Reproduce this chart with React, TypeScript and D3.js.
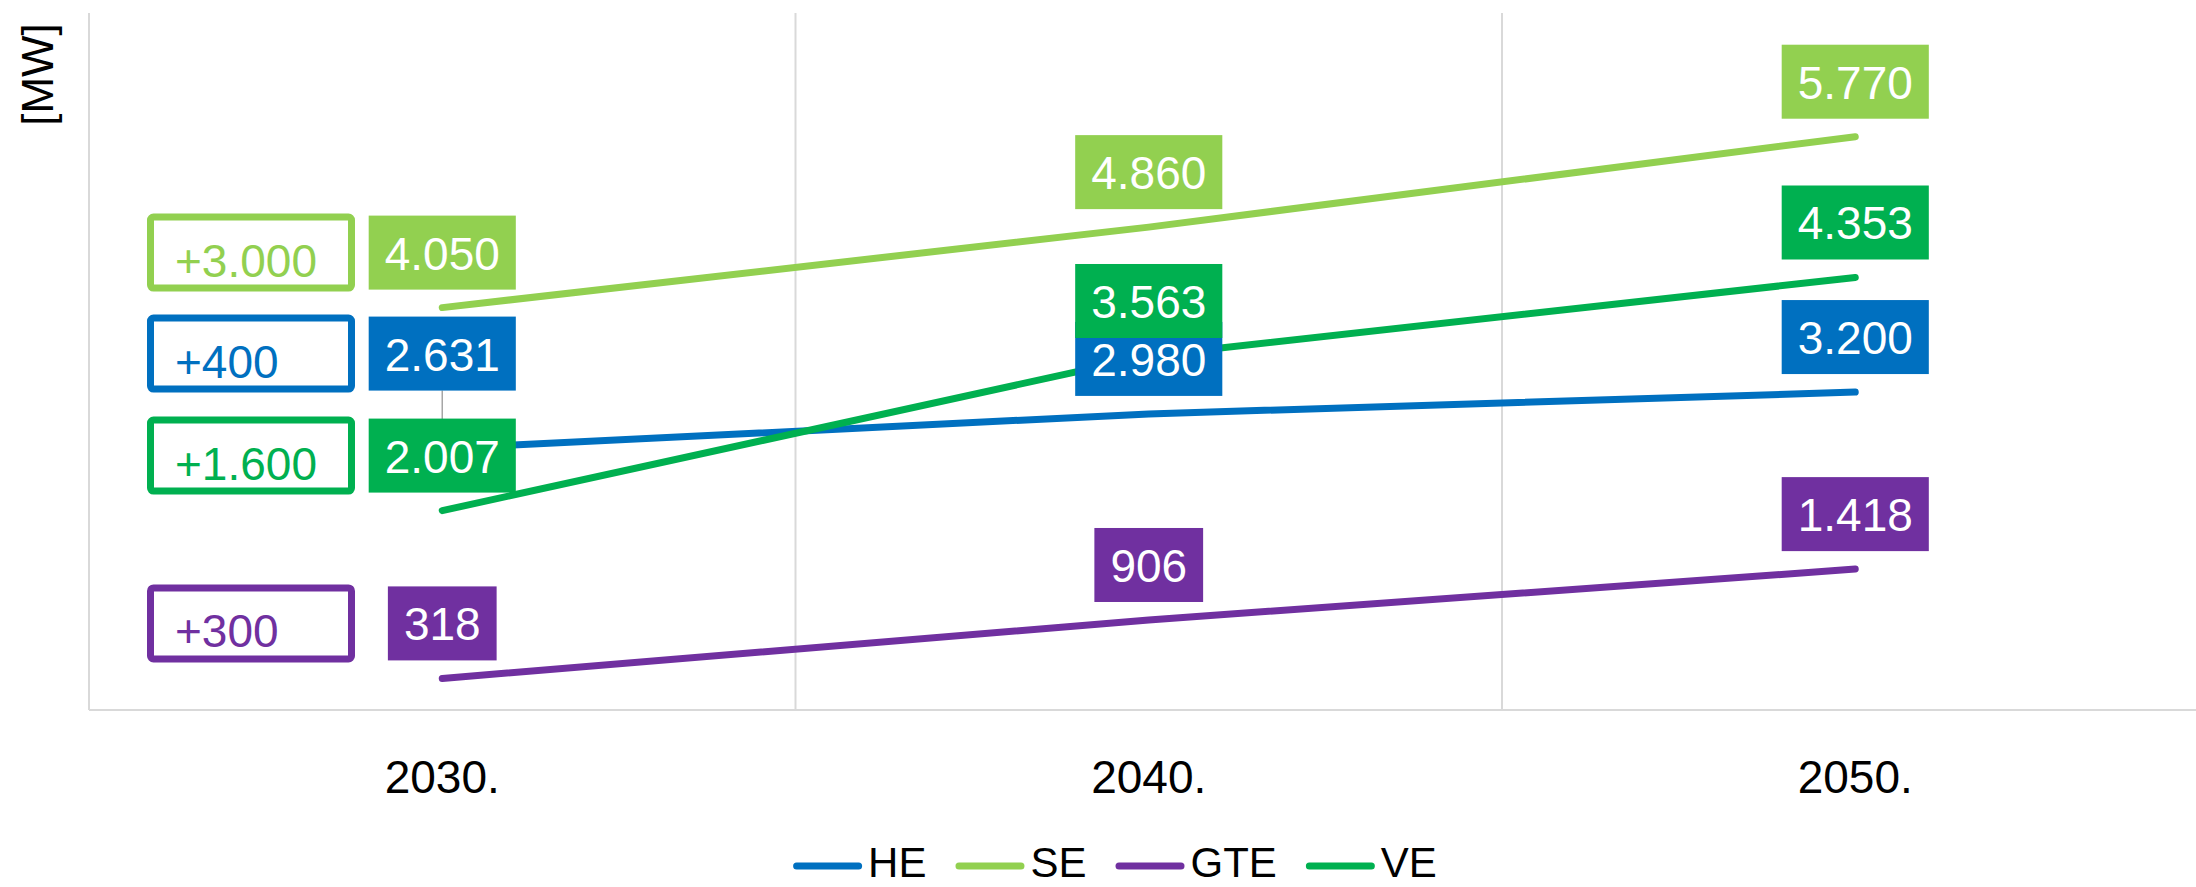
import React, { useRef, useEffect } from "react";
import * as d3 from "d3";

const WIDTH = 2196;
const HEIGHT = 887;

// data
const categories = ["2030.", "2040.", "2050."];
const seriesNames = ["HE", "SE", "GTE", "VE"];
const seriesColors = ["#0070C0", "#92D050", "#7030A0", "#00B050"];
const heValues = [2631, 2980, 3200];
const seValues = [4050, 4860, 5770];
const gteValues = [318, 906, 1418];
const veValues = [2007, 3563, 4353];
const increaseLabels = ["+400", "+3.000", "+300", "+1.600"];

const seriesValues = [heValues, seValues, gteValues, veValues];

// Excel style number format: dot as thousands separator
const locale = d3.formatLocale({ decimal: ",", thousands: ".", grouping: [3], currency: ["", ""] });
const fmt = locale.format(",d");

const FONT = "'Liberation Sans', Arial, sans-serif";

const App = () => {
  const svgRef = useRef<SVGSVGElement | null>(null);

  useEffect(() => {
    const svg = d3.select(svgRef.current);
    svg.selectAll("*").remove();

    const margin = { left: 89, top: 14.5, bottom: 710 };
    const x = d3.scaleBand<string>().domain(categories).range([margin.left, margin.left + 3 * 706.5]);
    const y = d3.scaleLinear().domain([0, 7000]).range([margin.bottom, margin.top]);
    const cx = (c: string) => (x(c) as number) + x.bandwidth() / 2;

    const g = svg.append("g");

    // vertical gridlines between categories
    g.selectAll(".grid")
      .data(categories.slice(1))
      .enter()
      .append("line")
      .attr("x1", d => x(d) as number)
      .attr("x2", d => x(d) as number)
      .attr("y1", 13)
      .attr("y2", margin.bottom)
      .attr("stroke", "#d9d9d9")
      .attr("stroke-width", 2);

    // axes lines
    g.append("line")
      .attr("x1", margin.left).attr("x2", margin.left)
      .attr("y1", 13).attr("y2", margin.bottom)
      .attr("stroke", "#d9d9d9").attr("stroke-width", 2);
    g.append("line")
      .attr("x1", margin.left).attr("x2", WIDTH + 20)
      .attr("y1", margin.bottom).attr("y2", margin.bottom)
      .attr("stroke", "#d9d9d9").attr("stroke-width", 2);

    // category labels
    g.selectAll(".xlab")
      .data(categories)
      .enter()
      .append("text")
      .attr("x", d => cx(d))
      .attr("y", 793)
      .attr("text-anchor", "middle")
      .attr("font-family", FONT)
      .attr("font-size", 46)
      .attr("fill", "#000")
      .text(d => d);

    // axis title
    g.append("text")
      .attr("transform", "translate(53,74.5) rotate(-90)")
      .attr("text-anchor", "middle")
      .attr("font-family", FONT)
      .attr("font-size", 44)
      .attr("fill", "#000")
      .text("[MW]");

    // lines
    const line = d3.line<number>()
      .x((_, i) => cx(categories[i]))
      .y(d => y(d));

    seriesValues.forEach((vals, s) => {
      g.append("path")
        .attr("d", line(vals))
        .attr("fill", "none")
        .attr("stroke", seriesColors[s])
        .attr("stroke-width", 7)
        .attr("stroke-linecap", "round")
        .attr("stroke-linejoin", "round");
    });

    // data labels
    const boxH = 74;
    const gap = 18;
    const padX = 16;
    // the HE 2030 label was dragged upwards in the original, with a leader line
    const labelShift = (s: number, i: number) => (s === 0 && i === 0 ? -40 : 0);
    const labelTop: number[][] = seriesValues.map((vals, s) =>
      vals.map((v, i) => y(v) - gap - boxH + labelShift(s, i))
    );

    // leader line for the moved label
    g.append("line")
      .attr("x1", cx(categories[0]))
      .attr("x2", cx(categories[0]))
      .attr("y1", labelTop[0][0] + boxH)
      .attr("y2", y(heValues[0]))
      .attr("stroke", "#a6a6a6")
      .attr("stroke-width", 1.5);

    seriesValues.forEach((vals, s) => {
      vals.forEach((v, i) => {
        const lg = g.append("g");
        const rect = lg.append("rect").attr("fill", seriesColors[s]);
        const t = lg.append("text")
          .attr("x", cx(categories[i]))
          .attr("y", labelTop[s][i] + 54)
          .attr("text-anchor", "middle")
          .attr("font-family", FONT)
          .attr("font-size", 46)
          .attr("fill", "#fff")
          .text(fmt(v));
        const tw = (t.node() as SVGTextElement).getComputedTextLength();
        rect
          .attr("x", cx(categories[i]) - tw / 2 - padX)
          .attr("y", labelTop[s][i])
          .attr("width", tw + 2 * padX)
          .attr("height", boxH);
      });
    });

    // increase annotations left of the 2030 labels
    seriesValues.forEach((_, s) => {
      const top = labelTop[s][0] - 2;
      const ag = g.append("g");
      ag.append("rect")
        .attr("x", 150.5)
        .attr("y", top + 3.5)
        .attr("width", 201)
        .attr("height", 71)
        .attr("rx", 3)
        .attr("fill", "#fff")
        .attr("stroke", seriesColors[s])
        .attr("stroke-width", 7);
      ag.append("text")
        .attr("x", 175)
        .attr("y", top + 63)
        .attr("font-family", FONT)
        .attr("font-size", 46)
        .attr("fill", seriesColors[s])
        .text(increaseLabels[s]);
    });

    // legend
    const legend = g.append("g");
    let lx = 0;
    seriesNames.forEach((name, s) => {
      legend.append("line")
        .attr("x1", lx + 3.5).attr("x2", lx + 65.5)
        .attr("y1", 866).attr("y2", 866)
        .attr("stroke", seriesColors[s])
        .attr("stroke-width", 7)
        .attr("stroke-linecap", "round");
      const t = legend.append("text")
        .attr("x", lx + 75)
        .attr("y", 877)
        .attr("font-family", FONT)
        .attr("font-size", 42)
        .attr("fill", "#000")
        .text(name);
      const tw = (t.node() as SVGTextElement).getComputedTextLength();
      lx += 75 + tw + 29;
    });
    const legendW = lx - 29;
    legend.attr("transform", `translate(${1115 - legendW / 2},0)`);
  }, []);

  return (
    <div style={{ position: "absolute", left: 0, top: 0, width: WIDTH, height: HEIGHT, background: "#fff" }}>
      <svg ref={svgRef} width={WIDTH} height={HEIGHT} style={{ display: "block" }}></svg>
    </div>
  );
};

export default App;
